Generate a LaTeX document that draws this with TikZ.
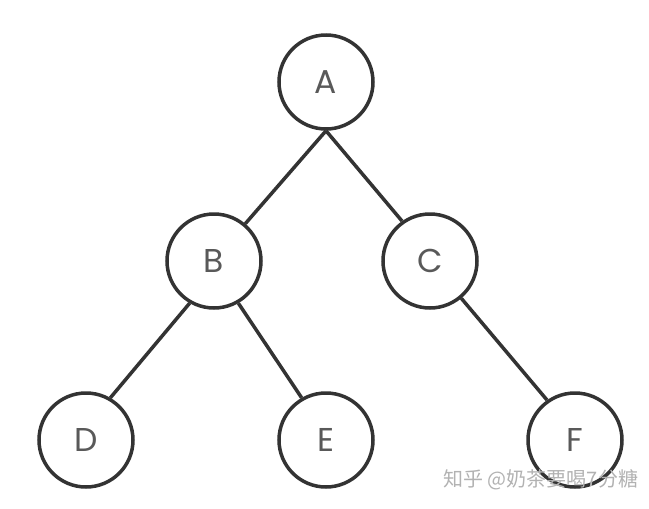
\documentclass[tikz,border=0pt]{standalone}
\usepackage{fontspec}
\setmainfont{Poppins}
\newfontfamily\cjkfont{Noto Sans CJK SC}
\usepackage{tikz}
\usetikzlibrary{positioning}
\tikzset{
  treenode/.style={circle, draw=black!80, line width=3.5pt,
                   minimum size=94pt, inner sep=0pt, fill=white,
                   text=black!65, font=\fontsize{33}{38}\selectfont},
  treeedge/.style={draw=black!80, line width=3.5pt},
  watermark/.style={anchor=west, text=black!30,
                    font=\cjkfont\fontsize{20}{24}\selectfont},
}

\begin{document}
\begin{tikzpicture}[x=1pt, y=-1pt]
  \useasboundingbox (0,0) rectangle (649,509);

  % Tree nodes
  \node[treenode] (A) at (326,82)  {A};
  \node[treenode] (B) at (214,261) {B};
  \node[treenode] (C) at (430,261) {C};
  \node[treenode] (D) at (86,440)  {D};
  \node[treenode] (E) at (326,440) {E};
  \node[treenode] (F) at (575,440) {F};

  % Edges
  \draw[treeedge] (A.south) -- (B.50);
  \draw[treeedge] (A.south) -- (C.125);
  \draw[treeedge] (B.-120) -- (D.60);
  \draw[treeedge] (B.-60) -- (E.120);
  \draw[treeedge] (C.-50) -- (F.125);

  % Watermark
  \node[watermark] (wm) at (440,480) {知乎 @奶茶要喝7分糖};
\end{tikzpicture}
\end{document}
